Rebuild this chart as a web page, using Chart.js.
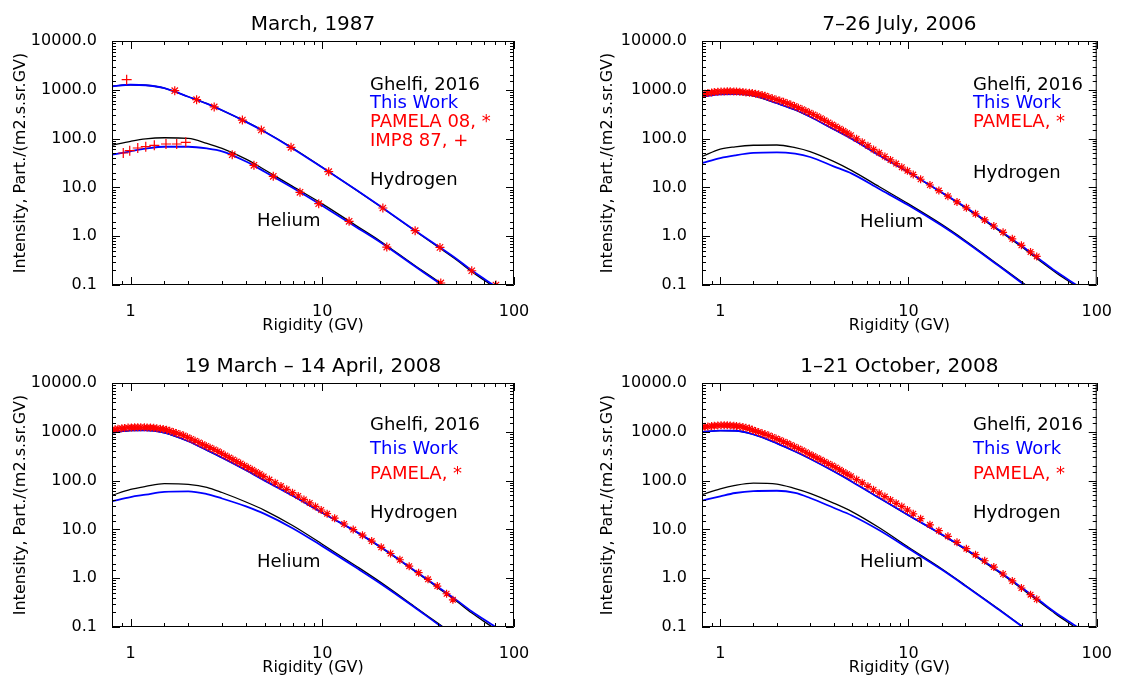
<!DOCTYPE html>
<html>
<head>
<meta charset="UTF-8">
<script src="https://cdn.jsdelivr.net/npm/chart.js"></script>
<style>
  body { margin: 0; background: #fff; }
  .panel { position: absolute; }
</style>
</head>
<body>
<div class="panel" style="left:0px;top:0px"><canvas id="c1" width="560" height="340"></canvas></div>
<div class="panel" style="left:560px;top:0px"><canvas id="c2" width="561" height="340"></canvas></div>
<div class="panel" style="left:0px;top:340px"><canvas id="c3" width="560" height="337"></canvas></div>
<div class="panel" style="left:560px;top:340px"><canvas id="c4" width="561" height="337"></canvas></div>

<script>
// rigidity grid (GV) for the model curves
const curveR = [0.8, 1, 1.2, 1.5, 2, 2.5, 3, 4, 5, 7, 10, 15, 20, 30, 40, 50, 60, 80, 100];

// March 1987
const p1HGhelfi  = [1190, 1270, 1240, 1080, 720, 520, 380, 222, 140, 64, 25.8, 8.9, 4.1, 1.34, 0.61, 0.33, 0.19, 0.087, 0.047];
const p1HThis    = [1180, 1270, 1240, 1080, 720, 520, 380, 220, 138, 63, 25.5, 8.9, 4.14, 1.36, 0.63, 0.345, 0.2, 0.094, 0.052];
const p1HeGhelfi = [72.9, 88, 99, 104, 101, 80, 63, 38, 23, 10.5, 4.6, 1.65, 0.8, 0.26, 0.12, 0.064, 0.038, 0.017, 0.0093];
const p1HeThis   = [46.8, 55, 62, 68, 68, 63, 55, 34, 21, 9.8, 4.2, 1.55, 0.76, 0.25, 0.115, 0.062, 0.037, 0.017, 0.0094];
const p1PamHR  = [1.70, 2.21, 2.73, 3.83, 4.81, 6.87, 10.8, 20.7, 30.5, 41.1, 60.2, 80.5];
const p1PamH   = [960, 627, 445, 240, 150, 66.4, 21, 3.78, 1.30, 0.59, 0.196, 0.1];
const p1PamHeR = [3.39, 4.40, 5.55, 7.65, 9.58, 13.8, 21.7, 41.5];
const p1PamHe  = [46.8, 28.4, 16.9, 7.94, 4.64, 2.02, 0.60, 0.11];
const p1ImpHR  = [0.954];
const p1ImpH   = [1610];
const p1ImpHeR = [0.916, 0.99, 1.09, 1.20, 1.33, 1.53, 1.74, 1.94];
const p1ImpHe  = [50.7, 56.5, 64.2, 68.2, 72.9, 77.5, 77.5, 84.0];

// 7-26 July 2006
const p2HGhelfi  = [730, 815, 815, 755, 530, 388, 280, 156, 99, 45.5, 20.2, 7.8, 3.85, 1.33, 0.6, 0.31, 0.185, 0.087, 0.047];
const p2HThis    = [720, 810, 815, 760, 530, 390, 280, 155, 98, 45, 20.4, 7.9, 3.95, 1.38, 0.63, 0.33, 0.195, 0.094, 0.052];
const p2HeGhelfi = [43, 61, 68, 73, 74, 65, 54, 34, 22, 10.3, 4.6, 1.75, 0.82, 0.26, 0.115, 0.06, 0.036, 0.016, 0.0087];
const p2HeThis   = [31.6, 40, 45.5, 51, 52.4, 49, 42, 27, 19.2, 9.3, 4.3, 1.65, 0.78, 0.25, 0.11, 0.058, 0.035, 0.0155, 0.0085];

// 19 March - 14 April 2008
const p3HGhelfi  = [950, 1060, 1070, 955, 640, 420, 295, 164, 101, 49, 21.8, 8.9, 4.35, 1.44, 0.64, 0.34, 0.195, 0.09, 0.048];
const p3HThis    = [960, 1070, 1075, 960, 640, 420, 295, 163, 100, 49, 22, 9.0, 4.45, 1.48, 0.67, 0.36, 0.21, 0.1, 0.054];
const p3HeGhelfi = [50, 66, 76, 87, 84, 73, 57, 36.4, 24.6, 12, 4.98, 1.78, 0.84, 0.27, 0.12, 0.064, 0.038, 0.017, 0.0092];
const p3HeThis   = [37.7, 46, 51.4, 59, 60.4, 53, 43, 29.6, 20.8, 10.6, 4.54, 1.65, 0.79, 0.26, 0.115, 0.062, 0.037, 0.0165, 0.009];

// 1-21 October 2008
const p4HGhelfi  = [990, 1055, 1050, 885, 580, 395, 280, 156, 96, 44, 19.4, 7.8, 3.9, 1.35, 0.61, 0.32, 0.19, 0.088, 0.047];
const p4HThis    = [995, 1060, 1050, 885, 580, 395, 280, 155, 95, 44, 19.5, 7.9, 4.0, 1.4, 0.64, 0.34, 0.2, 0.097, 0.053];
const p4HeGhelfi = [51.4, 68, 80, 89, 85, 68.6, 55, 34.7, 23.2, 10.8, 4.31, 1.56, 0.72, 0.236, 0.105, 0.056, 0.034, 0.015, 0.0082];
const p4HeThis   = [38.7, 47.6, 55.7, 61, 62, 56, 44, 27.8, 19.3, 9.6, 4.06, 1.5, 0.7, 0.23, 0.103, 0.055, 0.033, 0.0148, 0.0081];

// PAMELA proton bins (GV) and fluxes for the three PAMELA periods
const pamelaR = [0.80, 0.83, 0.86, 0.90, 0.93, 0.97, 1.01, 1.05, 1.09, 1.13, 1.18, 1.22, 1.27, 1.32, 1.37, 1.43, 1.48, 1.54, 1.60, 1.67, 1.73,
  1.81, 1.89, 1.98, 2.07, 2.17, 2.27, 2.37, 2.48, 2.60, 2.72, 2.85, 2.98, 3.12, 3.27, 3.42, 3.58, 3.75, 3.93, 4.11, 4.31, 4.51, 4.72,
  4.95, 5.30, 5.68, 6.09, 6.52, 6.99, 7.49, 8.02, 8.60, 9.21, 9.87, 10.6,
  11.6, 13.0, 14.5, 16.2, 18.1, 20.3, 22.7, 25.4, 28.4, 31.8, 35.6, 39.8, 44.5, 48.0];
const p2Pamela = [800, 830, 855, 880, 897, 912, 922, 928, 931, 930, 926, 920, 910, 898, 885, 868, 855, 832, 808, 778, 752,
  706, 671, 634, 601, 568, 531, 497, 463, 430, 399, 367, 339, 312, 287, 261, 237, 214, 194, 176, 159, 144, 130,
  117, 99, 84, 71, 60, 51, 43, 36.5, 30.8, 26.0, 21.9, 18.3,
  14.7, 11.2, 8.6, 6.6, 5.05, 3.81, 2.88, 2.16, 1.62, 1.20, 0.885, 0.651, 0.477, 0.385];
const p3Pamela = [1105, 1130, 1155, 1180, 1198, 1220, 1232, 1238, 1240, 1240, 1237, 1232, 1220, 1205, 1185, 1160, 1135, 1105, 1050, 992, 947,
  892, 843, 772, 712, 654, 603, 558, 514, 472, 435, 398, 362, 328, 297, 270, 245, 223, 202, 184, 166, 150, 136,
  122, 105, 90, 77.3, 66.3, 56.6, 48.4, 41.1, 34.8, 29.5, 25.0, 21.0,
  17.0, 12.9, 9.9, 7.6, 5.76, 4.29, 3.21, 2.39, 1.76, 1.30, 0.95, 0.69, 0.48, 0.36];
const p4Pamela = [1236, 1262, 1285, 1310, 1328, 1348, 1358, 1360, 1356, 1348, 1334, 1315, 1290, 1255, 1215, 1165, 1100, 1040, 989, 935, 893,
  840, 782, 727, 677, 627, 580, 536, 494, 454, 418, 381, 348, 318, 290, 266, 243, 222, 203, 185, 166, 150, 136,
  123, 105, 90, 76.3, 65, 55.2, 47, 40.2, 34.2, 29.5, 24.9, 20.9,
  16.6, 12.4, 9.4, 7.2, 5.43, 4.03, 3.03, 2.28, 1.69, 1.22, 0.88, 0.63, 0.46, 0.37];

const BLACK = '#000000';
const BLUE = '#0000ff';
const RED = '#ff0000';
const FONT = 'DejaVu Sans';

function pts(rs, vs) {
  return rs.map((r, i) => ({ x: r, y: vs[i] }));
}

function curve(rs, vs, color, width, order) {
  return {
    data: pts(rs, vs), showLine: true, borderColor: color, borderWidth: width,
    pointRadius: 0, cubicInterpolationMode: 'monotone', order: order
  };
}

function marks(rs, vs, style, radius) {
  return {
    data: pts(rs, vs), showLine: false, pointStyle: style, pointRadius: radius,
    borderColor: RED, backgroundColor: RED, borderWidth: 1.2, order: 0
  };
}

function isDecade(v) {
  const l = Math.log10(v);
  return Math.abs(l - Math.round(l)) < 1e-6;
}

// box with inward ticks on four sides, like the IDL plot frame
const frameTicks = {
  id: 'frameTicks',
  afterDraw(chart) {
    const { ctx, chartArea: a, scales: { x, y } } = chart;
    ctx.save();
    ctx.strokeStyle = BLACK;
    ctx.lineWidth = 1;
    ctx.beginPath();
    ctx.rect(a.left + 0.5, a.top + 0.5, a.right - a.left - 1, a.bottom - a.top - 1);
    x.ticks.forEach(t => {
      const px = Math.round(x.getPixelForValue(t.value)) + 0.5;
      const len = isDecade(t.value) ? 8 : 4;
      ctx.moveTo(px, a.bottom); ctx.lineTo(px, a.bottom - len);
      ctx.moveTo(px, a.top); ctx.lineTo(px, a.top + len);
    });
    y.ticks.forEach(t => {
      const py = Math.round(y.getPixelForValue(t.value)) + 0.5;
      const len = isDecade(t.value) ? 8 : 4;
      ctx.moveTo(a.left, py); ctx.lineTo(a.left + len, py);
      ctx.moveTo(a.right, py); ctx.lineTo(a.right - len, py);
    });
    ctx.stroke();
    ctx.restore();
  }
};

// title, legend lines and the Hydrogen / Helium notes
const panelText = {
  id: 'panelText',
  afterDraw(chart, args, opts) {
    const { ctx, chartArea: a } = chart;
    ctx.save();
    ctx.textBaseline = 'middle';
    ctx.textAlign = 'center';
    ctx.fillStyle = BLACK;
    ctx.font = '20px "' + FONT + '"';
    ctx.fillText(opts.title, (a.left + a.right) / 2, a.top - 16);
    ctx.textAlign = 'left';
    ctx.font = '18px "' + FONT + '"';
    opts.legend.forEach((item, i) => {
      ctx.fillStyle = item.color;
      ctx.fillText(item.text, a.left + opts.legendX, a.top + opts.legendY[i]);
    });
    ctx.fillStyle = BLACK;
    ctx.fillText('Hydrogen', a.left + opts.hyd[0], a.top + opts.hyd[1]);
    ctx.fillText('Helium', a.left + opts.hel[0], a.top + opts.hel[1]);
    ctx.restore();
  }
};

function makePanel(id, box, datasets, text) {
  const tickFont = { family: FONT, size: 16 };
  new Chart(document.getElementById(id), {
    type: 'scatter',
    data: { datasets: datasets },
    options: {
      responsive: false,
      animation: false,
      layout: { padding: { top: box.top, right: box.right, left: 0, bottom: 0 } },
      plugins: { legend: { display: false }, tooltip: { enabled: false }, panelText: text },
      scales: {
        x: {
          type: 'logarithmic', min: 0.8, max: 100,
          grid: { display: false }, border: { display: false },
          ticks: {
            autoSkip: false, maxRotation: 0, padding: 9, color: BLACK, font: tickFont,
            callback: v => isDecade(v) ? String(Math.round(v)) : ''
          },
          title: { display: true, text: 'Rigidity (GV)', color: BLACK, font: tickFont, padding: { top: 0, bottom: box.xTitle } },
          afterFit: s => { s.height = box.bottom; }
        },
        y: {
          type: 'logarithmic', min: 0.1, max: 10000,
          grid: { display: false }, border: { display: false },
          ticks: {
            autoSkip: false, padding: 7, color: BLACK, font: tickFont,
            callback: v => isDecade(v) ? Number(v).toFixed(1) : ''
          },
          title: { display: true, text: 'Intensity, Part./(m2.s.sr.GV)', color: BLACK, font: tickFont, padding: { top: box.yTitle, bottom: 0 } },
          afterFit: s => { s.width = box.left; }
        }
      }
    },
    plugins: [frameTicks, panelText]
  });
}

function modelSets(hG, hT, heG, heT) {
  return [
    curve(curveR, hG, BLACK, 1.3, 2),
    curve(curveR, heG, BLACK, 1.3, 2),
    curve(curveR, hT, BLUE, 1.8, 1),
    curve(curveR, heT, BLUE, 1.8, 1)
  ];
}

const pamelaLegend = [
  { text: 'Ghelfi, 2016', color: BLACK },
  { text: 'This Work', color: BLUE },
  { text: 'PAMELA, *', color: RED }
];

makePanel('c1', { left: 112, right: 46, top: 41, bottom: 55, xTitle: 5, yTitle: 11 },
  modelSets(p1HGhelfi, p1HThis, p1HeGhelfi, p1HeThis).concat([
    marks(p1PamHR, p1PamH, 'star', 4.5),
    marks(p1PamHeR, p1PamHe, 'star', 4.5),
    marks(p1ImpHR, p1ImpH, 'cross', 5),
    marks(p1ImpHeR, p1ImpHe, 'cross', 5)
  ]),
  {
    title: 'March, 1987',
    legend: [
      { text: 'Ghelfi, 2016', color: BLACK },
      { text: 'This Work', color: BLUE },
      { text: 'PAMELA 08, *', color: RED },
      { text: 'IMP8 87, +', color: RED }
    ],
    legendX: 258, legendY: [44, 62.5, 81, 100], hyd: [258, 139], hel: [145, 180]
  });

makePanel('c2', { left: 142, right: 17, top: 41, bottom: 55, xTitle: 5, yTitle: 38 },
  modelSets(p2HGhelfi, p2HThis, p2HeGhelfi, p2HeThis).concat([marks(pamelaR, p2Pamela, 'star', 4)]),
  { title: '7\u201326 July, 2006', legend: pamelaLegend, legendX: 271, legendY: [44, 62.5, 81], hyd: [271, 132], hel: [158, 181] });

makePanel('c3', { left: 112, right: 46, top: 43, bottom: 50, xTitle: 0, yTitle: 11 },
  modelSets(p3HGhelfi, p3HThis, p3HeGhelfi, p3HeThis).concat([marks(pamelaR, p3Pamela, 'star', 4)]),
  { title: '19 March \u2013 14 April, 2008', legend: pamelaLegend, legendX: 258, legendY: [42, 66, 91], hyd: [258, 130], hel: [145, 179] });

makePanel('c4', { left: 142, right: 17, top: 43, bottom: 50, xTitle: 0, yTitle: 38 },
  modelSets(p4HGhelfi, p4HThis, p4HeGhelfi, p4HeThis).concat([marks(pamelaR, p4Pamela, 'star', 4)]),
  { title: '1\u201321 October, 2008', legend: pamelaLegend, legendX: 271, legendY: [42, 66, 91], hyd: [271, 130], hel: [158, 179] });
</script>
</body>
</html>
